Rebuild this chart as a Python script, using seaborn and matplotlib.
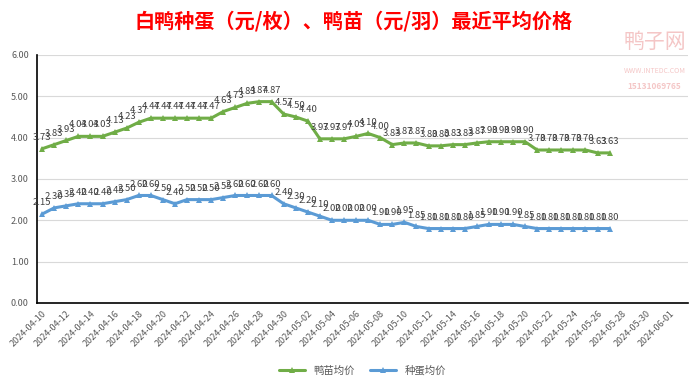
import matplotlib
matplotlib.use("Agg")
import matplotlib.pyplot as plt
import seaborn as sns
import pandas as pd
import numpy as np

# data (daily, 2024-04-10 .. 2024-05-27)
start_date = "2024-04-10"
duckling = [3.73, 3.83, 3.93, 4.03, 4.03, 4.03, 4.13, 4.23, 4.37,
            4.47, 4.47, 4.47, 4.47, 4.47, 4.47,
            4.63, 4.73, 4.83, 4.87, 4.87,
            4.57, 4.50, 4.40, 3.97, 3.97, 3.97, 4.03, 4.10, 4.00,
            3.83, 3.87, 3.87, 3.80, 3.80, 3.83, 3.83, 3.87,
            3.90, 3.90, 3.90, 3.90,
            3.70, 3.70, 3.70, 3.70, 3.70, 3.63, 3.63]
egg = [2.15, 2.30, 2.35, 2.40, 2.40, 2.40, 2.45, 2.50, 2.60, 2.60,
       2.50, 2.40, 2.50, 2.50, 2.50, 2.55,
       2.60, 2.60, 2.60, 2.60,
       2.40, 2.30, 2.20, 2.10, 2.00, 2.00, 2.00, 2.00,
       1.90, 1.90, 1.95, 1.85, 1.80, 1.80, 1.80, 1.80, 1.85,
       1.90, 1.90, 1.90, 1.85,
       1.80, 1.80, 1.80, 1.80, 1.80, 1.80, 1.80]
series_names = ["鸭苗均价", "种蛋均价"]
series_colors = ["#70AD47", "#5B9BD5"]
title = "白鸭种蛋（元/枚）、鸭苗（元/羽）最近平均价格"

dates = pd.date_range(start_date, periods=len(duckling), freq="D")
df = pd.DataFrame({"date": list(dates) * 2,
                   "price": duckling + egg,
                   "series": [series_names[0]] * len(duckling) + [series_names[1]] * len(egg)})

sns.set_style("white")
plt.rcParams["font.family"] = ["Noto Sans CJK SC", "DejaVu Sans"]

fig = plt.figure(figsize=(7, 3.84), dpi=100)
ax = fig.add_axes([0.053, 0.211, 0.930, 0.646])

sns.lineplot(data=df, x="date", y="price", hue="series", hue_order=series_names,
             palette=series_colors, marker="^", markersize=5, markeredgewidth=0,
             linewidth=2.2, ax=ax, legend=True)

# data labels
for name, vals in zip(series_names, [duckling, egg]):
    for d, v in zip(dates, vals):
        ax.annotate(f"{v:.2f}", (d, v), xytext=(0, 5), textcoords="offset points",
                    ha="center", va="bottom", fontsize=6.8, color="#404040")

x0 = pd.Timestamp(start_date)
ax.set_xlim(x0 - pd.Timedelta(hours=10), x0 + pd.Timedelta(days=53.5))
ax.set_ylim(0, 6)
ax.set_yticks(np.arange(0, 7, 1))
ax.set_yticklabels([f"{t:.2f}" for t in range(7)])
ticks = pd.date_range(start_date, "2024-06-01", freq="2D")
ax.set_xticks(ticks)
ax.set_xticklabels([t.strftime("%Y-%m-%d") for t in ticks], rotation=45,
                   ha="right", rotation_mode="anchor")
ax.tick_params(axis="both", labelsize=6.5, labelcolor="#595959", length=0)
ax.tick_params(axis="y", pad=6)
ax.tick_params(axis="x", pad=4)
ax.grid(axis="y", color="#D9D9D9", linewidth=0.8)
ax.set_xlabel("")
ax.set_ylabel("")
for s in ["top", "right"]:
    ax.spines[s].set_visible(False)
ax.spines["left"].set_color("black")
ax.spines["bottom"].set_color("black")
ax.spines["left"].set_linewidth(1.2)
ax.spines["bottom"].set_linewidth(1.2)

ax.legend(loc="upper center", bbox_to_anchor=(0.5, -0.215), ncol=2, frameon=False,
          fontsize=7.5, handlelength=2.5, columnspacing=1.5, labelcolor="#595959")

fig.text(0.505, 0.945, title, ha="center", va="center", fontsize=14.5,
         fontweight="bold", color="#FF0000")

# watermark
fig.text(0.935, 0.89, "鸭子网", ha="center", va="center", fontsize=15,
         color="#F2B8B8", alpha=0.8)
fig.text(0.935, 0.815, "WWW.INTEDC.COM", ha="center", va="center", fontsize=5,
         color="#F2B8B8", alpha=0.8)
fig.text(0.935, 0.775, "15131069765", ha="center", va="center", fontsize=6,
         color="#F2B8B8", alpha=0.8, fontweight="bold")

fig.savefig("out.png", dpi=100)
